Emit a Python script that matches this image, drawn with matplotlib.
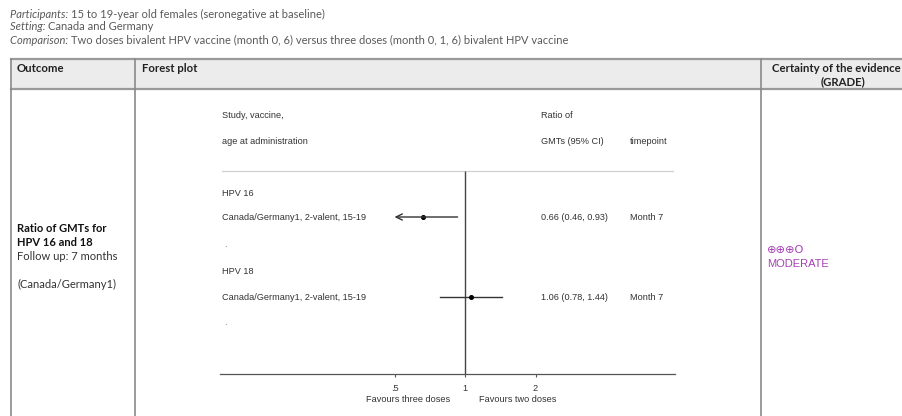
import matplotlib
matplotlib.use("Agg")
import matplotlib.pyplot as plt

# ---- data ----
participants = "15 to 19-year old females (seronegative at baseline)"
setting = "Canada and Germany"
comparison = ("Two doses bivalent HPV vaccine (month 0, 6) versus three doses "
              "(month 0, 1, 6) bivalent HPV vaccine")
subgroups = ["HPV 16", "HPV 18"]
studies = ["Canada/Germany1, 2-valent, 15-19", "Canada/Germany1, 2-valent, 15-19"]
ratio = [0.66, 1.06]
ci_low = [0.46, 0.78]
ci_high = [0.93, 1.44]
timepoints = ["Month 7", "Month 7"]
tick_values = [0.5, 1, 2]
tick_labels = [".5", "1", "2"]
favours = ["Favours three doses", "Favours two doses"]

W, H = 902, 416
fig = plt.figure(figsize=(W / 100, H / 100), dpi=100)
bg = fig.add_axes([0, 0, 1, 1])
bg.set_xlim(0, W)
bg.set_ylim(H, 0)
bg.axis("off")

TF = "Lato"
SF = "Liberation Sans"
grey_txt = "#5a5a5a"
renderer = fig.canvas.get_renderer()

# ---- intro lines: italic heading followed by plain text ----
def label_line(y, head, body):
    t = bg.text(10, y, head + ": ", fontsize=8.0, family=TF, style="italic",
                color=grey_txt, va="center")
    bb = t.get_window_extent(renderer=renderer)
    bg.text(bb.x1, H - y, body, fontsize=8.0, family=TF, color=grey_txt,
            va="center", transform=None)

label_line(14, "Participants", participants)
label_line(27, "Setting", setting)
label_line(40, "Comparison", comparison)

# ---- table frame ----
col_x = [11, 135, 761]
bg.add_patch(plt.Rectangle((11, 59), W - 11, 30, facecolor="#ececec",
                           edgecolor="none"))
bg.plot([11, W], [59, 59], color="#9a9a9a", lw=1.6)
bg.plot([11, W], [89, 89], color="#9a9a9a", lw=1.6)
for x in col_x:
    bg.plot([x, x], [59, H], color="#8a8a8a", lw=1.2)

hs = 8.2
bg.text(17, 68, "Outcome", fontsize=hs, family=TF, weight="bold",
        color="#222", va="center")
bg.text(142, 68, "Forest plot", fontsize=hs, family=TF, weight="bold",
        color="#222", va="center")
bg.text(772, 68, "Certainty of the evidence", fontsize=hs, family=TF,
        weight="bold", color="#222", va="center", ha="left")
bg.text(843, 82, "(GRADE)", fontsize=hs, family=TF, weight="bold",
        color="#222", va="center", ha="center")

# outcome cell
cs = 8.0
bg.text(17, 228, "Ratio of GMTs for", fontsize=cs, family=TF, weight="bold",
        color="#111", va="center")
bg.text(17, 242, "HPV 16 and 18", fontsize=cs, family=TF, weight="bold",
        color="#111", va="center")
bg.text(17, 256, "Follow up: 7 months", fontsize=cs, family=TF,
        color="#333", va="center")
bg.text(17, 284, "(Canada/Germany1)", fontsize=cs, family=TF,
        color="#333", va="center")

# GRADE cell
purple = "#a540b5"
bg.text(767, 250, "\u2295\u2295\u2295O", fontsize=8.2, family="DejaVu Sans",
        color=purple, va="center")
bg.text(767, 264, "MODERATE", fontsize=8.0, family=SF, color=purple,
        va="center")

# ---- forest plot ----
fs = 6.6
fcol = "#333333"
bg.text(222, 116, "Study, vaccine,", fontsize=fs, family=SF, color=fcol, va="center")
bg.text(222, 142, "age at administration", fontsize=fs, family=SF, color=fcol, va="center")
bg.text(541, 116, "Ratio of", fontsize=fs, family=SF, color=fcol, va="center")
bg.text(541, 142, "GMTs (95% CI)", fontsize=fs, family=SF, color=fcol, va="center")
bg.text(630, 142, "timepoint", fontsize=fs, family=SF, color=fcol, va="center")
bg.plot([222, 673], [171, 171], color="#d0d0d0", lw=0.9)

x0, x1, px_one, px_per_doubling = 220, 675, 465, 70.5
y_axis, y_top = 374, 100
ax = fig.add_axes([x0 / W, (H - y_axis) / H, (x1 - x0) / W, (y_axis - y_top) / H])
ax.set_xscale("log")
ax.set_xlim(2 ** ((x0 - px_one) / px_per_doubling), 2 ** ((x1 - px_one) / px_per_doubling))
ax.set_ylim(y_axis, y_top)
ax.patch.set_alpha(0)
for s in ["top", "left", "right"]:
    ax.spines[s].set_visible(False)
ax.spines["bottom"].set_color("#555555")
ax.spines["bottom"].set_linewidth(0.9)
ax.set_yticks([])
ax.set_xticks(tick_values)
ax.set_xticklabels(tick_labels, fontsize=fs, family=SF, color=fcol)
ax.xaxis.set_minor_locator(matplotlib.ticker.NullLocator())
ax.tick_params(axis="x", length=2.5, width=0.8, color="#555555", pad=5)

ax.vlines(1, 171, y_axis, color="#444444", lw=1.0)

lo_lim, hi_lim = min(tick_values), max(tick_values)
row_y = [217, 297]
head_y = [193, 272]
dot_y = [249, 327]
for i in range(len(ratio)):
    y = row_y[i]
    bg.text(222, head_y[i], subgroups[i], fontsize=fs, family=SF, color=fcol, va="center")
    bg.text(222, y, studies[i], fontsize=fs, family=SF, color=fcol, va="center")
    bg.text(224, dot_y[i], ".", fontsize=fs, family=SF, color="#888", va="bottom")
    bg.text(541, y, f"{ratio[i]:.2f} ({ci_low[i]:.2f}, {ci_high[i]:.2f})",
            fontsize=fs, family=SF, color=fcol, va="center")
    bg.text(630, y, timepoints[i], fontsize=fs, family=SF, color=fcol, va="center")
    lo = max(ci_low[i], lo_lim)
    hi = min(ci_high[i], hi_lim)
    if ci_low[i] < lo_lim:
        ax.annotate("", xy=(lo, y), xytext=(hi, y),
                    arrowprops=dict(arrowstyle="->,head_length=0.45,head_width=0.22",
                                    lw=1.0, color="#333333", shrinkA=0, shrinkB=0))
    else:
        ax.plot([lo, hi], [y, y], color="#333333", lw=1.0)
    ax.plot(ratio[i], y, "o", ms=2.6, color="black")

bg.text(408, 399, favours[0], fontsize=fs, family=SF, color=fcol, va="center", ha="center")
bg.text(518, 399, favours[1], fontsize=fs, family=SF, color=fcol, va="center", ha="center")

fig.savefig("out.png", dpi=100)
